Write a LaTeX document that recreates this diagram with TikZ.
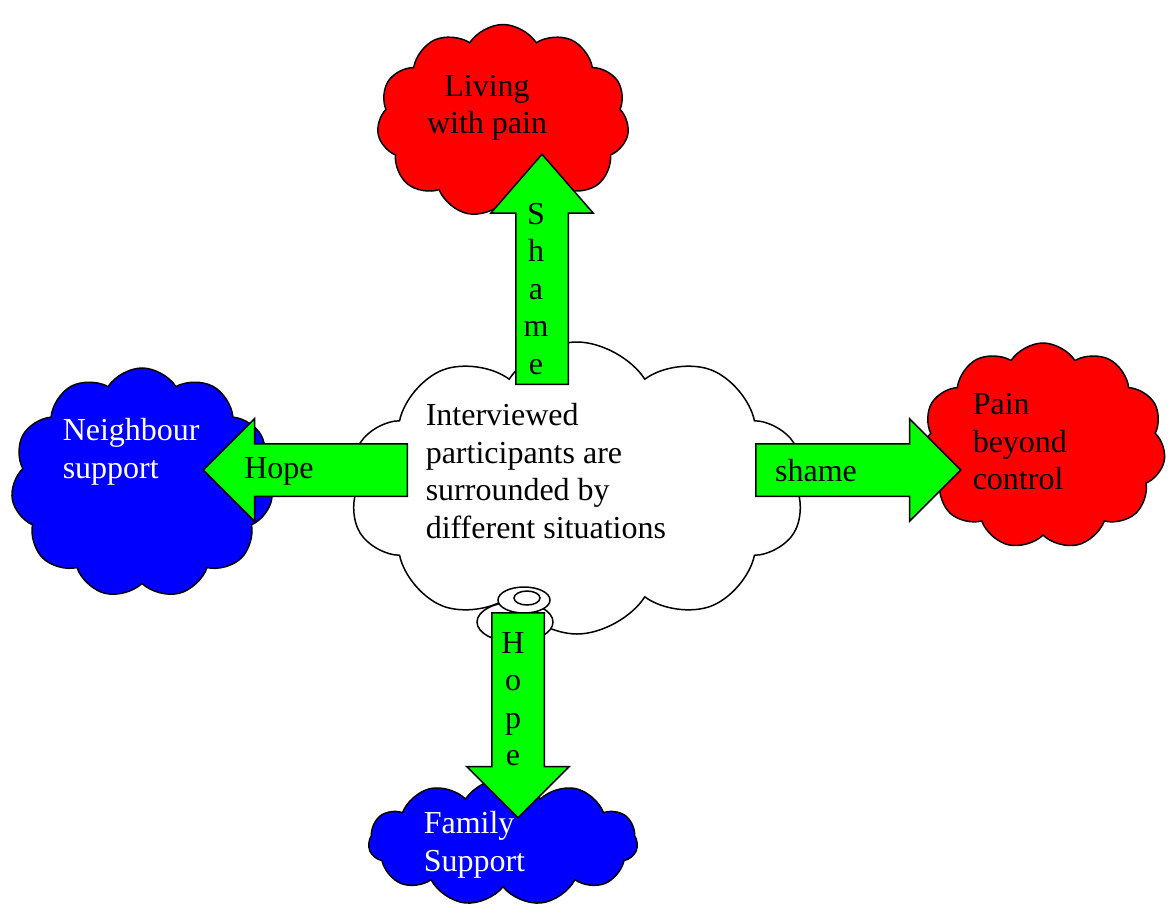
\documentclass[tikz,border=0pt]{standalone}
\usepackage{fontspec}
\setmainfont{Liberation Serif}
\usetikzlibrary{shapes.symbols,shapes.arrows,shapes.geometric}

\definecolor{painred}{RGB}{255,0,0}
\definecolor{supportblue}{RGB}{0,0,255}
\definecolor{arrowgreen}{RGB}{0,255,0}

\begin{document}
\begin{tikzpicture}[x=1pt,y=-1pt]
\tikzstyle{every path}=[line width=1.5pt]

\tikzstyle{puff}=[cloud,draw,cloud puffs=11,cloud puff arc=115,cloud ignores aspect,inner sep=0pt]
\tikzstyle{bubble}=[ellipse,draw,fill=white,inner sep=0pt]
\tikzstyle{blockarrow}=[single arrow,draw,fill=arrowgreen,inner sep=25.5pt,
single arrow head extend=25pt,single arrow tip angle=90,anchor=tail]
\tikzstyle{txt}=[font=\fontsize{32}{37.5}\selectfont,inner sep=0pt]

\useasboundingbox (0,0) rectangle (1169,906);

%% Clouds
\node [puff,fill=white,cloud puffs=10,minimum width=456pt,minimum height=292pt] (centre) at (577,488) {};
\node [bubble,minimum width=76pt,minimum height=40pt] (bubbleLow) at (515,622) {};
\node [bubble,minimum width=52pt,minimum height=26pt] (bubbleHigh) at (524,600) {};
\node [bubble,minimum width=26pt,minimum height=14pt] (bubbleCore) at (527,598) {};

\node [puff,fill=painred,minimum width=252pt,minimum height=193pt] (living) at (503,121) {};
\node [puff,fill=painred,minimum width=245pt,minimum height=206pt] (beyond) at (1043,446) {};
\node [puff,fill=supportblue,minimum width=262pt,minimum height=230pt] (neighbour) at (142,483) {};
\node [puff,fill=supportblue,minimum width=269pt,minimum height=127pt] (family) at (503,842) {};

%% Arrows out of the centre
\node [blockarrow,shape border rotate=90,single arrow tip angle=82,minimum height=230pt] (shameUp) at (542,385) {};
\node [blockarrow,shape border rotate=180,minimum height=204pt] (hopeLeft) at (408,470) {};
\node [blockarrow,minimum height=205pt] (shameRight) at (755,470) {};
\node [blockarrow,shape border rotate=270,minimum height=205pt] (hopeDown) at (518,612) {};

%% Texts
\node [txt,align=left,anchor=west] (centreTxt) at (425,471) {Interviewed\\participants are\\surrounded by\\different situations};
\node [txt,align=center] (livingTxt) at (487,108) {Living\\with pain};
\node [txt,align=left,anchor=west] (beyondTxt) at (972,442) {Pain\\beyond\\control};
\node [txt,align=left,anchor=west,text=white] (neighbourTxt) at (62,452) {Neighbour\\support};
\node [txt,align=left,anchor=west,text=white] (familyTxt) at (423,845) {Family\\Support};

\node [txt,align=center] (shameUpTxt) at (536,289) {S\\h\\a\\m\\e};
\node [txt] (hopeLeftTxt) at (279,471) {Hope};
\node [txt] (shameRightTxt) at (816,471) {shame};
\node [txt,align=center] (hopeDownTxt) at (513,699) {H\\o\\p\\e};
\end{tikzpicture}
\end{document}
